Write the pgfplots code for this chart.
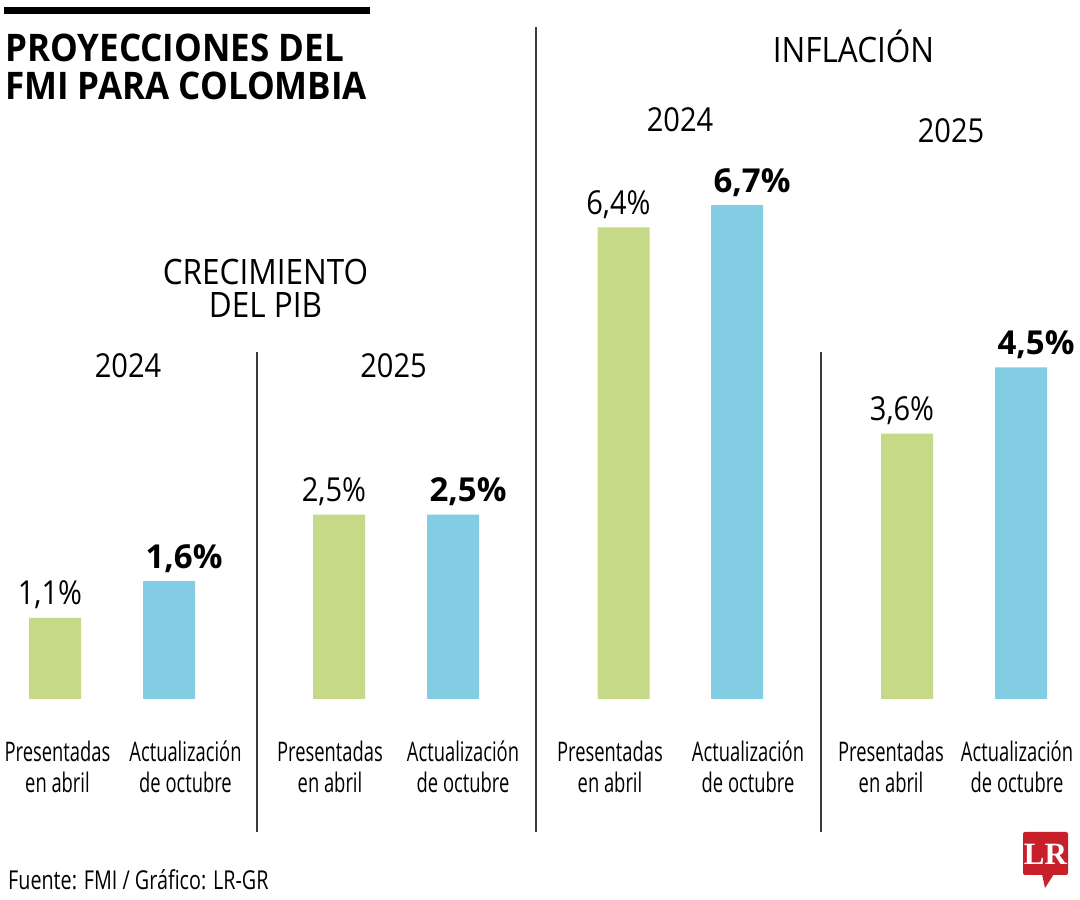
\documentclass[border=0pt]{standalone}
\usepackage{pgfplots}
\pgfplotsset{compat=1.18}
\usepackage{fontspec}
\setmainfont{Open Sans}
\newfontfamily\condfont{Open Sans}[FakeStretch=0.68]
\newfontfamily\headfont{Open Sans}[FakeStretch=0.9]
\newfontfamily\titlefont{Open Sans}[FakeStretch=0.92]
\newfontfamily\valfont{Open Sans}[FakeStretch=0.88]
\newfontfamily\srcfont{Open Sans}[FakeStretch=0.76]
\newfontfamily\lrfont{Liberation Serif}
\definecolor{barg}{RGB}{197,217,134}
\definecolor{barb}{RGB}{130,205,227}
\definecolor{sepc}{RGB}{60,60,60}
\definecolor{lrred}{RGB}{200,32,42}
\newcommand{\fs}[1]{\fontsize{#1pt}{#1pt}\selectfont}
\begin{document}
\begin{tikzpicture}[x=1pt,y=1pt]
\useasboundingbox (0,0) rectangle (1080,900);
\begin{axis}[
  at={(0,0)}, anchor=south west,
  scale only axis, width=1080pt, height=900pt,
  xmin=0, xmax=1080, ymin=-2.7273, ymax=9.4844,
  hide axis, clip=false,
  /pgf/number format/assume math mode=true,
  nodes near coords={\pgfmathprintnumber[use comma,fixed,fixed zerofill,precision=1]{\pgfplotspointmeta}\%},
  every node near coord/.append style={anchor=base, yshift=13pt, inner sep=0pt},
]
\addplot[ybar, bar width=52pt, bar shift=0pt, fill=barg, draw=none,
  every node near coord/.append style={font=\valfont\fs{33}, xshift=-5pt}]
  coordinates {(55,1.1) (339,2.5) (623.5,6.4) (907,3.6)};
\addplot[ybar, bar width=52pt, bar shift=0pt, fill=barb, draw=none,
  every node near coord/.append style={font=\bfseries\fs{33}, xshift=15pt}]
  coordinates {(169,1.6) (453,2.5) (737,6.7) (1021,4.5)};
\end{axis}
% top black rule
\fill (4,886) rectangle (370,893);
% title
\node[anchor=base west, inner sep=0pt, font=\titlefont\bfseries\fs{38}] at (5,838) {PROYECCIONES DEL};
\node[anchor=base west, inner sep=0pt, font=\titlefont\bfseries\fs{38}] at (5,800) {FMI PARA COLOMBIA};
% section headers
\node[anchor=base, inner sep=0pt, font=\headfont\fs{35}] at (853.5,837) {INFLACIÓN};
\node[anchor=base, inner sep=0pt, font=\headfont\fs{35}] at (265.5,615) {CRECIMIENTO};
\node[anchor=base, inner sep=0pt, font=\headfont\fs{35}] at (265.5,582) {DEL PIB};
% years
\node[anchor=base, inner sep=0pt, font=\valfont\fs{33}] at (128,522) {2024};
\node[anchor=base, inner sep=0pt, font=\valfont\fs{33}] at (393.5,522) {2025};
\node[anchor=base, inner sep=0pt, font=\valfont\fs{33}] at (680,768) {2024};
\node[anchor=base, inner sep=0pt, font=\valfont\fs{33}] at (951,757) {2025};
% separators
\draw[sepc, line width=1.5pt] (257,548) -- (257,68);
\draw[sepc, line width=1.5pt] (536,873) -- (536,68);
\draw[sepc, line width=1.5pt] (821,548) -- (821,68);
% category labels
\foreach \cx in {57.5,330,610,891} {
  \node[anchor=base, inner sep=0pt, font=\condfont\fs{27}] at (\cx,138) {Presentadas};
  \node[anchor=base, inner sep=0pt, font=\condfont\fs{27}] at (\cx,107) {en abril};
}
\foreach \cx in {185.5,463,748,1017} {
  \node[anchor=base, inner sep=0pt, font=\condfont\fs{27}] at (\cx,138) {Actualización};
  \node[anchor=base, inner sep=0pt, font=\condfont\fs{27}] at (\cx,107) {de octubre};
}
% source
\node[anchor=base west, inner sep=0pt, font=\srcfont\fs{26}] at (8,10) {Fuente: FMI / Gráfico: LR-GR};
% LR logo
\fill[lrred, rounded corners=2pt] (1023,25) rectangle (1068,68);
\fill[lrred] (1042,26) -- (1054,26) -- (1045,12) -- cycle;
\node[anchor=base, inner sep=0pt, text=white, font=\lrfont\bfseries\fs{31}] at (1045.5,35) {LR};
\end{tikzpicture}
\end{document}
